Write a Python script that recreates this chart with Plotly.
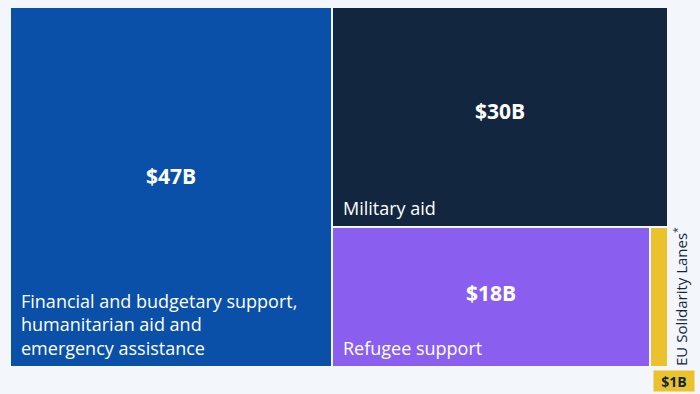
import plotly.graph_objects as go

# Data
categories = ["Financial and budgetary support,<br>humanitarian aid and<br>emergency assistance",
              "Military aid", "Refugee support", "EU Solidarity Lanes<sup>*</sup>"]
values = [47, 30, 18, 1]
value_labels = ["$47B", "$30B", "$18B", "$1B"]
colors = ["#0a50a8", "#13263f", "#8a5ff0", "#eac22e"]

BG = "#f3f6fa"

# slice-dice layout computed from values
total = sum(values)
rest = values[1] + values[2] + values[3]
bottom = values[2] + values[3]
rects = []
rects.append((0, values[0], 0, 1))
x0 = values[0]
h_mil = values[1] / rest
rects.append((x0, total, 1 - h_mil, 1))
h_bot = bottom / rest
w = total - x0
xr = x0 + w * values[2] / bottom
rects.append((x0, xr, 0, h_bot))
rects.append((xr, total, 0, h_bot))

fig = go.Figure()
for (a, b, c, d), col in zip(rects, colors):
    fig.add_trace(go.Bar(x=[(a + b) / 2], width=[b - a], base=[c], y=[d - c],
                         marker=dict(color=col, line=dict(color=BG, width=2)),
                         hoverinfo="skip", showlegend=False))

anns = []
font = "Open Sans"
for i in range(3):
    a, b, c, d = rects[i]
    anns.append(dict(x=(a + b) / 2, y=c + 0.53 * (d - c), xref="x", yref="y",
                     text="<b>" + value_labels[i] + "</b>",
                     showarrow=False, font=dict(family=font, size=21, color="white")))
    anns.append(dict(x=a, y=c, xref="x", yref="y", text=categories[i], showarrow=False,
                     xanchor="left", yanchor="bottom", align="left",
                     xshift=9, yshift=5,
                     font=dict(family=font, size=18, color="white")))
a, b, c, d = rects[3]
anns.append(dict(x=a, y=c, xref="x", yref="y", text="<b>" + value_labels[3] + "</b>", showarrow=False,
                 xanchor="left", yanchor="top", yshift=-3, xshift=3, bgcolor=colors[3],
                 width=38, height=18, borderpad=1, align="center",
                 font=dict(family=font, size=14, color="#13263f")))
anns.append(dict(x=b, y=c, xref="x", yref="y", text=categories[3], showarrow=False, textangle=-90,
                 xanchor="left", yanchor="bottom", xshift=0, yshift=-1,
                 font=dict(family=font, size=15, color="#13263f")))

fig.update_layout(
    width=700, height=394,
    margin=dict(l=10, r=32, t=7, b=27),
    paper_bgcolor=BG, plot_bgcolor=BG,
    barmode="overlay", bargap=0,
    xaxis=dict(range=[0, total], visible=False, fixedrange=True),
    yaxis=dict(range=[0, 1], visible=False, fixedrange=True),
    annotations=anns,
)
fig.write_html("out.html", config={"displayModeBar": False},
               post_script="document.body.style.margin='0';document.body.style.background='%s';" % BG)
